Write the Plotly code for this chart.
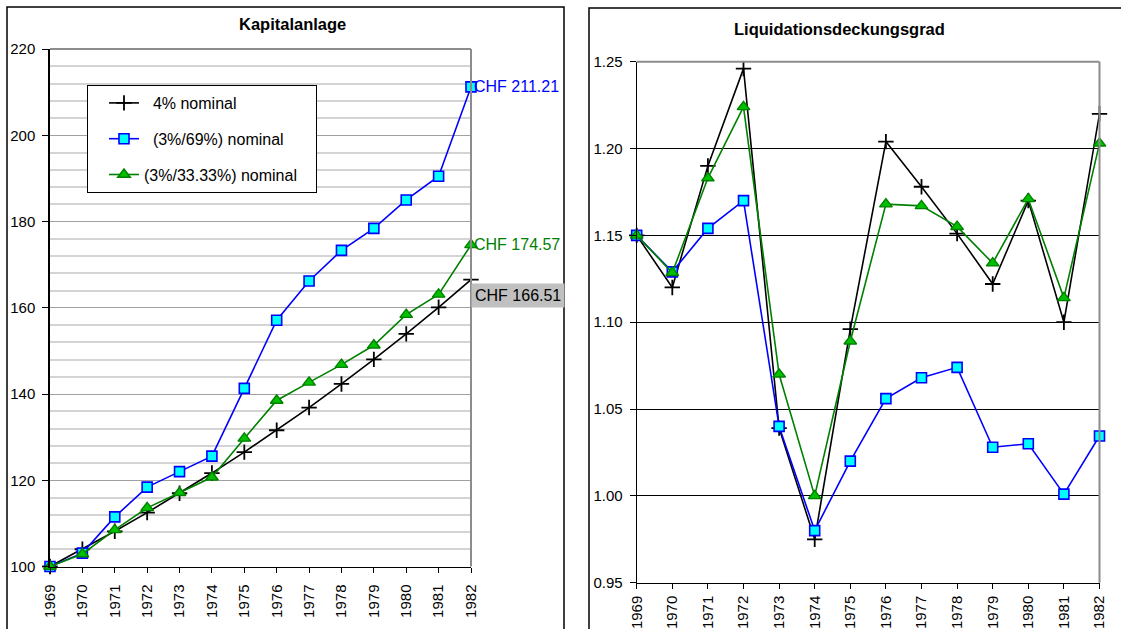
import plotly.graph_objects as go

years = list(range(1969, 1983))
year_labels = [str(y) for y in years]

# Kapitalanlage
kap_4 = [100.00, 104.00, 108.16, 112.49, 116.99, 121.67, 126.53, 131.59, 136.86, 142.33, 148.02, 153.95, 160.10, 166.51]
kap_69 = [100.0, 103.1, 111.5, 118.4, 122.0, 125.6, 141.3, 157.1, 166.2, 173.3, 178.4, 185.0, 190.5, 211.21]
kap_33 = [100.0, 102.9, 108.5, 113.6, 117.1, 120.7, 129.7, 138.5, 142.7, 146.8, 151.3, 158.4, 163.1, 174.57]

# Liquidationsdeckungsgrad
liq_4 = [1.150, 1.120, 1.190, 1.246, 1.039, 0.975, 1.096, 1.204, 1.178, 1.151, 1.122, 1.170, 1.100, 1.220]
liq_69 = [1.150, 1.129, 1.154, 1.170, 1.040, 0.980, 1.020, 1.056, 1.068, 1.074, 1.028, 1.030, 1.001, 1.0345]
liq_33 = [1.150, 1.1285, 1.183, 1.224, 1.070, 1.000, 1.089, 1.168, 1.167, 1.155, 1.134, 1.171, 1.114, 1.203]

names = ["4% nominal", "(3%/69%) nominal", "(3%/33.33%) nominal"]
end_labels = ["CHF 166.51", "CHF 211.21", "CHF 174.57"]

W, H = 1121, 629
FONT = "Liberation Sans, Arial, sans-serif"
NB = "\u00a0"

def px_x(p):
    return p / W

def px_y(p):
    return 1 - p / H

styles = [
    dict(line=dict(color="#000000", width=1.6),
         marker=dict(symbol="cross-thin", size=11, color="#000000", line=dict(color="#000000", width=1.8))),
    dict(line=dict(color="#0000ff", width=1.6),
         marker=dict(symbol="square", size=10, color="#00ffff", line=dict(color="#0000ff", width=1.6))),
    dict(line=dict(color="#008000", width=1.6),
         marker=dict(symbol="triangle-up", size=11, color="#00c000", line=dict(color="#008000", width=1.4))),
]

fig = go.Figure()

legend_names = [NB * 2 + names[0], NB * 2 + names[1], names[2] + NB * 3]
for i, series in enumerate([kap_4, kap_69, kap_33]):
    fig.add_trace(go.Scatter(x=years, y=series, name=legend_names[i], mode="lines+markers",
                             xaxis="x", yaxis="y", cliponaxis=False,
                             legendgroup="g%d" % i, showlegend=True, **styles[i]))

for i, series in enumerate([liq_4, liq_69, liq_33]):
    fig.add_trace(go.Scatter(x=years, y=series, name=names[i], mode="lines+markers",
                             xaxis="x2", yaxis="y2", cliponaxis=False,
                             showlegend=False, **styles[i]))

tickfont = dict(family=FONT, size=15, color="#000000")

xcommon = dict(tickmode="array", tickvals=years, ticktext=year_labels, tickangle=-90,
               ticks="outside", ticklen=5, tickcolor="#000000", showline=True,
               linecolor="#000000", linewidth=1, showgrid=False, zeroline=False,
               tickfont=tickfont, range=[1969, 1982], fixedrange=True, automargin=False)

fig.update_layout(
    template="none",
    width=W, height=H,
    margin=dict(l=0, r=0, t=0, b=0, pad=0),
    paper_bgcolor="#ffffff", plot_bgcolor="#ffffff",
    font=dict(family=FONT, size=15, color="#000000"),
    xaxis=dict(domain=[px_x(50), px_x(471)], anchor="y", ticklabelstandoff=6, **xcommon),
    yaxis=dict(domain=[px_y(566.5), px_y(49)], anchor="x", range=[100, 220],
               tickmode="linear", tick0=100, dtick=20, ticks="outside", ticklen=6,
               tickcolor="#000000", showline=True, linecolor="#000000", linewidth=1.5,
               showgrid=True, gridcolor="#a0a0a0", gridwidth=1, zeroline=False,
               minor=dict(dtick=4, showgrid=True, gridcolor="#d4d4d4", gridwidth=1.5, ticks=""),
               tickfont=tickfont, ticklabelstandoff=4, automargin=False),
    xaxis2=dict(domain=[px_x(636.7), px_x(1099.5)], anchor="y2", ticklabelstandoff=1, **xcommon),
    yaxis2=dict(domain=[px_y(582.7), px_y(61.7)], anchor="x2", range=[0.95, 1.25],
                tickmode="linear", tick0=0.95, dtick=0.05, tickformat=".2f",
                ticks="outside", ticklen=6, tickcolor="#000000", showline=True,
                linecolor="#000000", linewidth=1, showgrid=True, gridcolor="#000000",
                gridwidth=1, zeroline=False, tickfont=tickfont, ticklabelstandoff=4,
                automargin=False),
    legend=dict(x=px_x(87), y=px_y(85), xanchor="left", yanchor="top",
                bgcolor="#ffffff", bordercolor="#000000", borderwidth=1,
                font=dict(family=FONT, size=16, color="#000000"),
                tracegroupgap=12, indentation=16),
    showlegend=True,
    hovermode=False,
)

shapes = []
# panel borders
shapes.append(dict(type="rect", xref="paper", yref="paper", x0=px_x(7), x1=px_x(564),
                   y0=-0.1, y1=px_y(7), line=dict(color="#000000", width=1.5), layer="below"))
shapes.append(dict(type="rect", xref="paper", yref="paper", x0=px_x(589), x1=1.1,
                   y0=-0.1, y1=px_y(8), line=dict(color="#000000", width=1.5), layer="below"))
# gray top/right plot-area borders
for xr, yr in (("x", "y"), ("x2", "y2")):
    shapes.append(dict(type="line", xref=xr + " domain", yref=yr + " domain", x0=0, x1=1, y0=1, y1=1,
                       line=dict(color="#8c8c8c", width=2)))
    shapes.append(dict(type="line", xref=xr + " domain", yref=yr + " domain", x0=1, x1=1, y0=0, y1=1,
                       line=dict(color="#8c8c8c", width=2)))
fig.update_layout(shapes=shapes)

annotations = [
    dict(text="<b>Kapitalanlage</b>", xref="paper", yref="paper", x=px_x(292), y=px_y(24),
         xanchor="center", yanchor="middle", showarrow=False,
         font=dict(family=FONT, size=16.5, color="#000000")),
    dict(text="<b>Liquidationsdeckungsgrad</b>", xref="paper", yref="paper", x=px_x(839), y=px_y(29),
         xanchor="center", yanchor="middle", showarrow=False,
         font=dict(family=FONT, size=16.5, color="#000000")),
    dict(text=end_labels[1], xref="x", yref="y", x=years[-1], y=kap_69[-1], xanchor="left",
         yanchor="middle", xshift=1, showarrow=False,
         font=dict(family=FONT, size=16, color="#0000ff")),
    dict(text=end_labels[2], xref="x", yref="y", x=years[-1], y=kap_33[-1], xanchor="left",
         yanchor="middle", xshift=1, showarrow=False,
         font=dict(family=FONT, size=16, color="#008000")),
    dict(text=end_labels[0], xref="x", yref="y", x=years[-1], y=kap_4[-1], xanchor="left",
         yanchor="top", xshift=0, yshift=-3, showarrow=False, bgcolor="#c0c0c0", borderpad=3,
         font=dict(family=FONT, size=16, color="#000000")),
]
fig.update_layout(annotations=annotations)

fig.write_html("out.html")
